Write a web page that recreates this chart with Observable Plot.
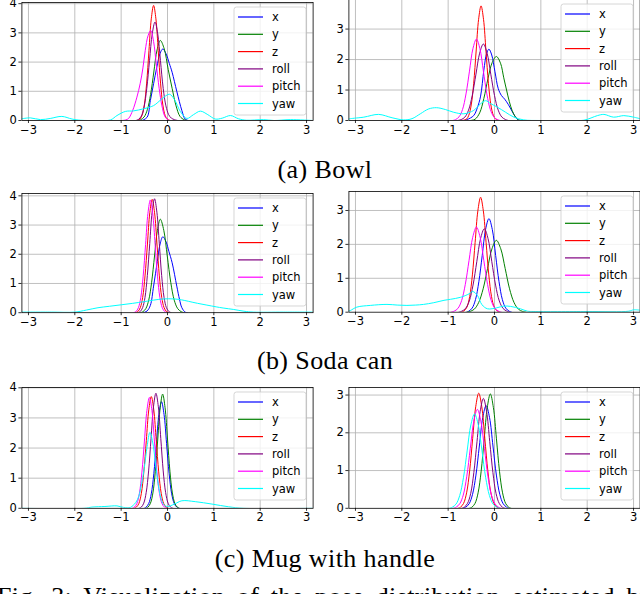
<!DOCTYPE html>
<html><head><meta charset="utf-8">
<script src="https://cdn.jsdelivr.net/npm/d3@7"></script>
<script src="https://cdn.jsdelivr.net/npm/@observablehq/plot@0.6"></script>
<style>
html,body{margin:0;padding:0;background:#fff;}
#fig{position:relative;width:640px;height:594px;overflow:hidden;background:#fff;}
</style></head><body><div id="fig"></div>
<script>
// ---------- data ----------
const seriesNames = ["x", "y", "z", "roll", "pitch", "yaw"];
const seriesColors = ["#0000ff", "#008000", "#ff0000", "#800080", "#ff00ff", "#00ffff"];
const xTicks = [-3, -2, -1, 0, 1, 2, 3];
const captions = ["(a) Bowl", "(b) Soda can", "(c) Mug with handle"];
const figCaption = "Fig. 3: Visualization of the pose distribution estimated by";

// (a) Bowl, left
const bowlLeft = {
  x: [[-0.55,0],[-0.44,0.11],[-0.37,0.68],[-0.3,1.26],[-0.23,1.83],[-0.16,2.3],[-0.1,2.45],[-0.03,2.28],[0.04,1.95],[0.1,1.65],[0.2,1.0],[0.31,0.34],[0.38,0.05],[0.45,0]],
  y: [[-0.62,0],[-0.575,0.03],[-0.505,0.12],[-0.435,0.37],[-0.365,0.89],[-0.295,1.66],[-0.225,2.42],[-0.155,2.74],[-0.07,2.45],[0.015,1.75],[0.1,1.1],[0.185,0.5],[0.27,0.14],[0.355,0.03],[0.42,0]],
  z: [[-0.66,0],[-0.6,0.04],[-0.55,0.17],[-0.5,0.53],[-0.45,1.28],[-0.4,2.39],[-0.35,3.48],[-0.3,3.94],[-0.25,3.48],[-0.2,2.39],[-0.15,1.28],[-0.1,0.53],[-0.05,0.17],[0,0.04],[0.06,0]],
  roll: [[-0.68,0],[-0.624,0.04],[-0.565,0.15],[-0.506,0.46],[-0.447,1.1],[-0.388,2.05],[-0.329,2.97],[-0.27,3.37],[-0.211,2.97],[-0.152,2.05],[-0.093,1.1],[-0.034,0.5],[0.025,0.2],[0.084,0.08],[0.15,0.03],[0.22,0]],
  pitch: [[-0.98,0],[-0.9,0.02],[-0.84,0.07],[-0.75,0.35],[-0.66,0.8],[-0.59,1.26],[-0.53,1.8],[-0.48,2.4],[-0.42,2.9],[-0.36,3.08],[-0.3,2.7],[-0.24,1.9],[-0.18,1.1],[-0.12,0.5],[-0.06,0.15],[0,0.03],[0.05,0]],
  yaw: [[-3.14,0.06],[-2.96,0.09],[-2.74,0.03],[-2.53,0.07],[-2.28,0.14],[-2.06,0.05],[-1.88,0.01],[-1.5,0],[-1.23,0.02],[-1.09,0.17],[-0.91,0.31],[-0.73,0.33],[-0.52,0.4],[-0.3,0.51],[-0.12,0.74],[0.04,0.9],[0.15,0.72],[0.28,0.3],[0.42,0.07],[0.56,0.2],[0.71,0.32],[0.87,0.2],[1.03,0.05],[1.18,0.08],[1.36,0.17],[1.53,0.06],[1.7,0.01],[2.07,0.03],[2.3,0],[2.65,0.03],[3.14,0]]
};
// (a) Bowl, right
const bowlRight = {
  x: [[-0.65,0],[-0.59,0.03],[-0.45,0.16],[-0.37,0.42],[-0.3,0.8],[-0.23,1.65],[-0.17,2.2],[-0.12,2.34],[-0.06,2.15],[0.01,1.6],[0.08,1.05],[0.15,0.82],[0.22,0.7],[0.3,0.52],[0.38,0.3],[0.45,0.12],[0.5,0.03],[0.56,0]],
  y: [[-0.52,0],[-0.42,0.04],[-0.32,0.25],[-0.23,0.72],[-0.14,1.38],[-0.05,1.9],[0.04,2.1],[0.13,1.88],[0.2,1.4],[0.26,1.0],[0.32,0.62],[0.38,0.33],[0.45,0.12],[0.52,0.02],[0.58,0]],
  z: [[-0.7,0],[-0.608,0.04],[-0.555,0.17],[-0.502,0.51],[-0.449,1.22],[-0.396,2.28],[-0.343,3.32],[-0.29,3.76],[-0.237,3.32],[-0.184,2.28],[-0.131,1.22],[-0.078,0.51],[-0.025,0.17],[0.028,0.04],[0.09,0]],
  roll: [[-0.8,0],[-0.72,0.03],[-0.64,0.11],[-0.56,0.34],[-0.48,0.82],[-0.4,1.52],[-0.32,2.21],[-0.24,2.51],[-0.16,2.21],[-0.08,1.52],[0,0.82],[0.08,0.34],[0.16,0.11],[0.24,0.03],[0.3,0]],
  pitch: [[-0.9,0],[-0.84,0.03],[-0.765,0.12],[-0.69,0.36],[-0.615,0.87],[-0.54,1.62],[-0.465,2.36],[-0.39,2.67],[-0.315,2.36],[-0.24,1.62],[-0.165,0.87],[-0.09,0.36],[-0.015,0.12],[0.06,0.03],[0.12,0]],
  yaw: [[-3.14,0.05],[-3.11,0.06],[-2.82,0.11],[-2.5,0.2],[-2.21,0.09],[-1.96,0.02],[-1.78,0.06],[-1.6,0.22],[-1.42,0.38],[-1.25,0.42],[-1.06,0.36],[-0.88,0.27],[-0.66,0.22],[-0.45,0.33],[-0.3,0.55],[-0.19,0.65],[-0.09,0.56],[0.06,0.44],[0.24,0.27],[0.42,0.11],[0.63,0.02],[1.0,0],[1.6,0],[1.93,0.01],[2.22,0.16],[2.36,0.2],[2.57,0.11],[2.79,0.16],[3.0,0.11],[3.14,0.06]]
};
// (b) Soda can, left
const sodaLeft = {
  x: [[-0.52,0],[-0.44,0.06],[-0.37,0.25],[-0.3,0.91],[-0.22,1.75],[-0.16,2.35],[-0.1,2.6],[-0.03,2.42],[0.03,2.1],[0.1,1.71],[0.2,0.91],[0.26,0.45],[0.31,0.17],[0.38,0.02],[0.43,0]],
  y: [[-0.58,0],[-0.53,0.035],[-0.4675,0.14],[-0.405,0.43],[-0.3425,1.04],[-0.28,1.94],[-0.2175,2.82],[-0.155,3.2],[-0.08,2.82],[-0.005,1.94],[0.07,1.04],[0.145,0.43],[0.22,0.14],[0.295,0.035],[0.36,0]],
  z: [[-0.69,0],[-0.639,0.04],[-0.588,0.17],[-0.536,0.52],[-0.485,1.26],[-0.433,2.35],[-0.382,3.42],[-0.33,3.88],[-0.279,3.42],[-0.227,2.35],[-0.176,1.26],[-0.124,0.52],[-0.073,0.17],[-0.021,0.04],[0.03,0]],
  roll: [[-0.64,0],[-0.589,0.04],[-0.538,0.17],[-0.486,0.52],[-0.435,1.27],[-0.383,2.37],[-0.332,3.44],[-0.28,3.9],[-0.229,3.44],[-0.177,2.37],[-0.126,1.27],[-0.074,0.52],[-0.023,0.17],[0.029,0.04],[0.08,0]],
  pitch: [[-0.73,0],[-0.679,0.04],[-0.628,0.17],[-0.576,0.52],[-0.525,1.25],[-0.473,2.33],[-0.422,3.4],[-0.37,3.86],[-0.319,3.4],[-0.267,2.33],[-0.216,1.25],[-0.164,0.52],[-0.113,0.17],[-0.061,0.04],[-0.01,0]],
  yaw: [[-3.14,0.02],[-2.5,0.02],[-2.0,0.02],[-1.75,0.09],[-1.5,0.17],[-1.25,0.22],[-1.0,0.27],[-0.75,0.32],[-0.5,0.38],[-0.3,0.43],[-0.1,0.47],[0.15,0.47],[0.3,0.44],[0.45,0.39],[0.65,0.32],[0.85,0.26],[1.05,0.2],[1.2,0.16],[1.43,0.11],[1.65,0.05],[1.86,0.02],[2.5,0.02],[3.14,0.02]]
};
// (b) Soda can, right
const sodaRight = {
  x: [[-0.6,0],[-0.555,0.03],[-0.4825,0.12],[-0.41,0.37],[-0.3375,0.9],[-0.265,1.67],[-0.1925,2.44],[-0.12,2.76],[-0.0475,2.44],[0.025,1.67],[0.0975,0.9],[0.17,0.37],[0.2425,0.12],[0.315,0.03],[0.37,0]],
  y: [[-0.6,0],[-0.53,0.02],[-0.435,0.09],[-0.34,0.29],[-0.245,0.69],[-0.15,1.29],[-0.055,1.87],[0.04,2.12],[0.135,1.87],[0.23,1.29],[0.325,0.69],[0.42,0.29],[0.515,0.09],[0.61,0.02],[0.68,0]],
  z: [[-0.71,0],[-0.654,0.04],[-0.595,0.15],[-0.536,0.46],[-0.477,1.1],[-0.418,2.06],[-0.359,2.99],[-0.3,3.39],[-0.241,2.99],[-0.182,2.06],[-0.123,1.1],[-0.064,0.46],[-0.005,0.15],[0.054,0.04],[0.11,0]],
  roll: [[-0.77,0],[-0.706,0.03],[-0.625,0.11],[-0.544,0.33],[-0.463,0.8],[-0.382,1.49],[-0.301,2.17],[-0.22,2.46],[-0.139,2.17],[-0.058,1.49],[0.023,0.8],[0.104,0.33],[0.185,0.11],[0.266,0.03],[0.33,0]],
  pitch: [[-0.94,0],[-0.87,0.03],[-0.79,0.11],[-0.71,0.34],[-0.63,0.82],[-0.55,1.52],[-0.47,2.21],[-0.39,2.51],[-0.31,2.21],[-0.23,1.52],[-0.15,0.82],[-0.07,0.34],[0.01,0.11],[0.09,0.03],[0.15,0]],
  yaw: [[-3.14,0.04],[-3.11,0.05],[-2.97,0.15],[-2.68,0.2],[-2.32,0.23],[-2.1,0.21],[-1.89,0.2],[-1.7,0.21],[-1.53,0.23],[-1.31,0.28],[-1.09,0.35],[-0.95,0.38],[-0.73,0.44],[-0.55,0.54],[-0.47,0.61],[-0.37,0.5],[-0.27,0.22],[-0.15,0.1],[0.05,0.13],[0.2,0.18],[0.35,0.17],[0.56,0.1],[0.71,0.03],[0.85,0.02],[2.0,0.02],[2.9,0.03],[3.0,0.07],[3.14,0.06]]
};
// (c) Mug with handle, left
const mugLeft = {
  x: [[-0.5,0],[-0.46,0.04],[-0.405,0.16],[-0.35,0.48],[-0.295,1.15],[-0.24,2.15],[-0.185,3.12],[-0.13,3.54],[-0.075,3.12],[-0.02,2.15],[0.035,1.15],[0.09,0.48],[0.145,0.16],[0.2,0.04],[0.25,0]],
  y: [[-0.47,0],[-0.42,0.04],[-0.3675,0.17],[-0.315,0.51],[-0.2625,1.23],[-0.21,2.3],[-0.1575,3.34],[-0.105,3.79],[-0.0525,3.34],[0,2.3],[0.0525,1.23],[0.105,0.51],[0.1575,0.17],[0.21,0.04],[0.26,0]],
  z: [[-0.72,0],[-0.671,0.04],[-0.6175,0.16],[-0.564,0.5],[-0.5105,1.21],[-0.457,2.25],[-0.4035,3.27],[-0.35,3.71],[-0.2965,3.27],[-0.243,2.25],[-0.1895,1.21],[-0.136,0.5],[-0.0825,0.16],[-0.029,0.04],[0.02,0]],
  roll: [[-0.62,0],[-0.565,0.04],[-0.5125,0.17],[-0.46,0.52],[-0.4075,1.24],[-0.355,2.32],[-0.3025,3.37],[-0.25,3.82],[-0.1975,3.37],[-0.145,2.32],[-0.0925,1.24],[-0.04,0.52],[0.0125,0.17],[0.065,0.04],[0.12,0]],
  pitch: [[-0.76,0],[-0.714,0.04],[-0.66,0.16],[-0.606,0.5],[-0.552,1.2],[-0.498,2.23],[-0.444,3.25],[-0.39,3.68],[-0.336,3.25],[-0.282,2.23],[-0.228,1.2],[-0.174,0.5],[-0.12,0.16],[-0.066,0.04],[-0.01,0]],
  yaw: [[-3.14,0],[-1.8,0],[-1.63,0.04],[-1.35,0.06],[-1.09,0.08],[-0.95,0.03],[-0.8,0.03],[-0.74,0.1],[-0.68,0.2],[-0.62,0.4],[-0.56,0.8],[-0.5,1.35],[-0.44,2.05],[-0.38,2.52],[-0.32,2.2],[-0.26,1.5],[-0.2,0.8],[-0.14,0.33],[-0.08,0.12],[0,0.06],[0.15,0.14],[0.31,0.25],[0.6,0.22],[0.96,0.14],[1.32,0.05],[1.64,0],[3.14,0]]
};
// (c) Mug with handle, right
const mugRight = {
  x: [[-0.68,0],[-0.621,0.03],[-0.5475,0.12],[-0.474,0.37],[-0.4005,0.88],[-0.327,1.65],[-0.2535,2.4],[-0.18,2.72],[-0.1065,2.4],[-0.033,1.65],[0.0405,0.88],[0.114,0.37],[0.1875,0.12],[0.261,0.03],[0.32,0]],
  y: [[-0.54,0],[-0.486,0.03],[-0.42,0.13],[-0.354,0.41],[-0.288,0.98],[-0.222,1.84],[-0.156,2.67],[-0.09,3.03],[-0.024,2.67],[0.042,1.84],[0.108,0.98],[0.174,0.41],[0.24,0.13],[0.306,0.03],[0.36,0]],
  z: [[-0.79,0],[-0.733,0.03],[-0.6675,0.13],[-0.602,0.41],[-0.5365,0.99],[-0.471,1.85],[-0.4055,2.69],[-0.34,3.05],[-0.2745,2.69],[-0.209,1.85],[-0.1435,0.99],[-0.078,0.41],[-0.0125,0.13],[0.053,0.03],[0.11,0]],
  roll: [[-0.71,0],[-0.651,0.03],[-0.5825,0.13],[-0.514,0.39],[-0.4455,0.95],[-0.377,1.77],[-0.3085,2.57],[-0.24,2.91],[-0.1715,2.57],[-0.103,1.77],[-0.0345,0.95],[0.034,0.39],[0.1025,0.13],[0.171,0.03],[0.23,0]],
  pitch: [[-0.89,0],[-0.826,0.03],[-0.75,0.12],[-0.674,0.35],[-0.598,0.85],[-0.522,1.59],[-0.446,2.31],[-0.37,2.62],[-0.294,2.31],[-0.218,1.59],[-0.142,0.85],[-0.066,0.35],[0.01,0.12],[0.086,0.03],[0.15,0]],
  yaw: [[-0.97,0],[-0.91,0.03],[-0.83,0.11],[-0.75,0.34],[-0.67,0.81],[-0.59,1.52],[-0.51,2.21],[-0.43,2.5],[-0.35,2.21],[-0.27,1.52],[-0.19,0.81],[-0.11,0.34],[-0.03,0.11],[0.05,0.03],[0.11,0]]
};

// ---------- layout ----------
const L = {sx: 0, left: 21.4, right: 312.6};
const R = {sx: 320, left: 348.4, right: 639.6};
const panels = [
  {data: bowlLeft,  col: L, top: 2,     y0: 120,   yMax: 4.04, yTicks: [0,1,2,3,4]},
  {data: bowlRight, col: R, top: -1,    y0: 120,   yMax: 3.97, yTicks: [0,1,2,3]},
  {data: sodaLeft,  col: L, top: 192.5, y0: 311.7, yMax: 4.08, yTicks: [0,1,2,3,4]},
  {data: sodaRight, col: R, top: 191,   y0: 311.7, yMax: 3.56, yTicks: [0,1,2,3]},
  {data: mugLeft,   col: L, top: 386.5, y0: 507.3, yMax: 4.01, yTicks: [0,1,2,3,4]},
  {data: mugRight,  col: R, top: 386.5, y0: 507.3, yMax: 3.2,  yTicks: [0,1,2,3]}
];
const captionBaselines = [178, 369, 566.5];

const fig = document.getElementById("fig");
const fmt = d => d < 0 ? "\u2212" + Math.abs(d) : String(d);

panels.forEach(p => {
  const sy = p.top - 6;
  const W = 320;
  const H = p.y0 + 24 - sy;
  const mL = p.col.left - p.col.sx;
  const mR = p.col.sx + W - p.col.right;
  const marks = [
    Plot.gridX(xTicks, {stroke: "#b0b0b0", strokeOpacity: 1, strokeWidth: 0.8}),
    Plot.gridY(p.yTicks.filter(t => t > 0), {stroke: "#b0b0b0", strokeOpacity: 1, strokeWidth: 0.8})
  ];
  seriesNames.forEach((s, i) => {
    marks.push(Plot.line(p.data[s], {x: d => d[0], y: d => d[1], stroke: seriesColors[i], strokeWidth: 1, curve: "catmull-rom", clip: true}));
  });
  marks.push(Plot.frame({stroke: "black", strokeWidth: 0.8}));
  marks.push(Plot.axisX(xTicks, {tickSize: 3, tickPadding: 2, tickFormat: fmt, stroke: "black", strokeWidth: 0.8}));
  marks.push(Plot.axisY(p.yTicks, {tickSize: 3, tickPadding: 2, tickFormat: fmt, stroke: "black", strokeWidth: 0.8}));
  const svg = Plot.plot({
    width: W, height: H,
    marginLeft: mL, marginRight: mR, marginTop: 6, marginBottom: 24,
    style: {fontFamily: "DejaVu Sans", fontSize: "11.5px", color: "black", background: "transparent", overflow: "visible"},
    x: {domain: [-Math.PI, Math.PI]},
    y: {domain: [0, p.yMax]},
    marks
  });
  svg.style.position = "absolute";
  svg.style.left = p.col.sx + "px";
  svg.style.top = sy + "px";

  // legend (upper right, matplotlib style)
  const boxW = 72, boxH = 108;
  const bx = W - mR - 6.6 - boxW;
  const by = 6 + 5;
  const g = d3.select(svg).append("g").attr("font-family", "DejaVu Sans").attr("font-size", "11.5px")
    .attr("text-anchor", "start");
  g.append("rect").attr("x", bx).attr("y", by).attr("width", boxW).attr("height", boxH)
    .attr("rx", 2.5).attr("fill", "white").attr("fill-opacity", 0.8).attr("stroke", "#cccccc").attr("stroke-width", 0.8);
  seriesNames.forEach((s, i) => {
    const yy = by + 10 + i * 17.3;
    g.append("line").attr("x1", bx + 4).attr("x2", bx + 29).attr("y1", yy).attr("y2", yy)
      .attr("stroke", seriesColors[i]).attr("stroke-width", 1.2);
    g.append("text").attr("x", bx + 38).attr("y", yy).attr("dy", "0.35em")
      .attr("text-anchor", "start").style("text-anchor", "start").attr("fill", "black").text(s);
  });
  fig.appendChild(svg);
});

// captions
const cap = d3.create("svg").attr("width", 640).attr("height", 594)
  .style("position", "absolute").style("left", "0px").style("top", "0px");
captions.forEach((c, i) => {
  cap.append("text").attr("x", 325).attr("y", captionBaselines[i]).attr("text-anchor", "middle")
    .attr("font-family", "Liberation Serif").attr("font-size", 26).attr("letter-spacing", 0.4)
    .attr("fill", "black").text(c);
});
cap.append("text").attr("x", -3).attr("y", 605).attr("font-family", "Liberation Serif")
  .attr("font-size", 26).attr("letter-spacing", 0.4).attr("word-spacing", 4.5)
  .attr("fill", "black").text(figCaption);
fig.appendChild(cap.node());
</script></body></html>
